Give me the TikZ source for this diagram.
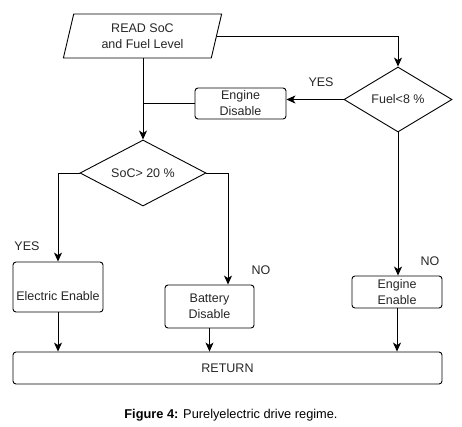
\documentclass[tikz,border=0pt]{standalone}
\usepackage{fontspec}
\setmainfont{Liberation Sans}
\usepackage{tikz}
\usetikzlibrary{shapes.geometric, arrows.meta, positioning, calc}

\begin{document}
\begin{tikzpicture}[x=1pt, y=-1pt,
    box/.style={rectangle, rounded corners=3pt, draw, line width=0.9pt, inner sep=1pt, align=center, text=black!85, font=\fontsize{12.5}{16}\selectfont},
    dia/.style={diamond, draw, line width=0.9pt, inner sep=1pt, aspect=1.7, align=center, text=black!85, font=\fontsize{12.5}{16}\selectfont},
    io/.style={trapezium, trapezium left angle=77, trapezium right angle=103, trapezium stretches=true, draw, line width=0.9pt, inner sep=1pt, align=center, text=black!85, font=\fontsize{12.5}{16.5}\selectfont},
    lbl/.style={inner sep=0pt, text=black!85, font=\fontsize{12.5}{15}\selectfont},
    ar/.style={-{Stealth[length=9pt, width=8pt, inset=2.5pt]}, line width=0.9pt},
    ln/.style={line width=0.9pt}]

\useasboundingbox (0,0) rectangle (462,426);

% Flowchart nodes
\node[io, minimum width=159pt, minimum height=44pt] (read) at (142.5,36) {READ SoC\\and Fuel Level};
\node[dia, minimum width=108pt, minimum height=65pt] (fuel) at (398,99.5) {Fuel<8 \%};
\node[box, minimum width=91pt, minimum height=31pt] (edis) at (240.5,103.5) {Engine\\Disable};
\node[dia, minimum width=126pt, minimum height=66pt] (soc) at (143,173) {SoC> 20 \%};
\node[box, minimum width=90pt, minimum height=50pt, text height=28pt] (elec) at (58,287) {Electric Enable};
\node[box, minimum width=89pt, minimum height=43pt] (bdis) at (209.5,306.5) {Battery\\Disable};
\node[box, minimum width=90pt, minimum height=32pt] (een) at (397,292) {Engine\\Enable};
\node[box, minimum width=429pt, minimum height=32pt] (ret) at (227.5,368) {RETURN};

% Branch labels
\node[lbl] (yesfuel) at (321,82) {YES};
\node[lbl] (yessoc) at (27,246) {YES};
\node[lbl] (nosoc) at (261,270) {NO};
\node[lbl] (nofuel) at (430,261) {NO};

% Arrows
\draw[ar] (read.east) -| (fuel.north);
\draw[ar] (soc.north |- read.south) -- (soc.north);
\draw[ar] (fuel.west) -- (fuel.west -| edis.east);
\draw[ln] (edis.west) -- (edis.west -| soc.north);
\draw[ar] (soc.west) -| (elec.north);
\draw[ar] (soc.east) -| ([xshift=18.5pt]bdis.north);
\draw[ar] (fuel.south) -- (fuel.south |- een.north);
\draw[ar] (elec.south) -- (elec.south |- ret.north);
\draw[ar] (bdis.south) -- (bdis.south |- ret.north);
\draw[ar] (een.south) -- (een.south |- ret.north);

% Caption
\node[font=\fontsize{12.8}{15}\selectfont] (cap) at (231,415) {\textbf{Figure 4:} Purelyelectric drive regime.};

\end{tikzpicture}
\end{document}
